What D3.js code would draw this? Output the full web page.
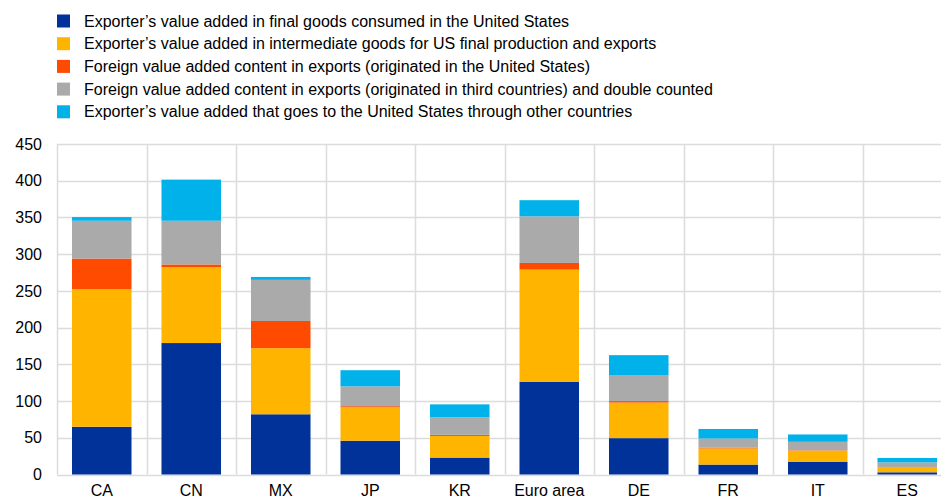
<!DOCTYPE html>
<html>
<head>
<meta charset="utf-8">
<script src="https://cdn.jsdelivr.net/npm/d3@7"></script>
<style>
  body { margin: 0; background: #fff; }
  svg { font-family: "Liberation Sans", Arial, sans-serif; display: block; }
</style>
</head>
<body>
<svg width="941" height="499"></svg>
<script>
var categories = ["CA", "CN", "MX", "JP", "KR", "Euro area", "DE", "FR", "IT", "ES"];

var seriesNames = [
  "Exporter\u2019s value added in final goods consumed in the United States",
  "Exporter\u2019s value added in intermediate goods for US final production and exports",
  "Foreign value added content in exports (originated in the United States)",
  "Foreign value added content in exports (originated in third countries) and double counted",
  "Exporter\u2019s value added that goes to the United States through other countries"
];

var finalGoods   = [65, 179, 82, 46, 23, 126, 49.5, 13.5, 17.5, 3];
var intermediate = [187.5, 103.5, 90, 45.5, 29.5, 153, 48.5, 22, 15, 6];
var foreignUS    = [41.5, 3.5, 37, 1.5, 1.5, 9, 2, 1, 0.5, 0.5];
var foreignThird = [51.5, 59.5, 56, 27, 24, 63.5, 35.5, 12.5, 11.5, 7];
var viaOthers    = [5, 56, 4, 22, 17.5, 22, 27, 13, 10, 6];

var yTicks = [0, 50, 100, 150, 200, 250, 300, 350, 400, 450];

var colors = ["#003299", "#ffb400", "#ff4b00", "#aaaaaa", "#00b1ea"];

var svg = d3.select("svg");
var plotLeft = 57, plotRight = 952, plotTop = 144, plotBottom = 474.5;

// rows for the stack
var rows = categories.map(function(c, i) {
  return { key: c, s0: finalGoods[i], s1: intermediate[i], s2: foreignUS[i], s3: foreignThird[i], s4: viaOthers[i] };
});
var stack = d3.stack().keys(["s0", "s1", "s2", "s3", "s4"]);
var layers = stack(rows);

var x = d3.scaleBand().domain(categories).range([plotLeft, plotRight]).paddingInner(0.335).paddingOuter(0.1675);
var y = d3.scaleLinear().domain([0, 450]).range([plotBottom, plotTop]);

// grid
var grid = svg.append("g");
grid.selectAll(".h").data(yTicks).enter().append("line")
  .attr("x1", plotLeft).attr("x2", 941)
  .attr("y1", function(d) { return Math.round(y(d)) + 0.5; })
  .attr("y2", function(d) { return Math.round(y(d)) + 0.5; })
  .attr("stroke", "#dcdcdc").attr("stroke-width", 1.5);
var step = x.step();
grid.selectAll(".v").data(d3.range(categories.length)).enter().append("line")
  .attr("x1", function(i) { return Math.round(plotLeft + i * step) + 0.5; })
  .attr("x2", function(i) { return Math.round(plotLeft + i * step) + 0.5; })
  .attr("y1", plotTop).attr("y2", plotBottom)
  .attr("stroke", "#dcdcdc").attr("stroke-width", 1.5);

// bars
svg.append("g").selectAll("g").data(layers).enter().append("g")
  .attr("fill", function(d, i) { return colors[i]; })
  .selectAll("rect").data(function(d) { return d; }).enter().append("rect")
  .attr("x", function(d) { return x(d.data.key); })
  .attr("width", x.bandwidth())
  .attr("y", function(d) { return y(d[1]); })
  .attr("height", function(d) { return y(d[0]) - y(d[1]); });

// y axis
var yAxis = svg.append("g")
  .attr("transform", "translate(" + plotLeft + ",0)")
  .call(d3.axisLeft(y).tickValues(yTicks).tickSize(0).tickPadding(15));
yAxis.select(".domain").remove();
yAxis.selectAll("text").attr("font-size", 16).attr("fill", "#000").style("font-family", "Liberation Sans, Arial, sans-serif");

// x axis
var xAxis = svg.append("g")
  .attr("transform", "translate(0," + plotBottom + ")")
  .call(d3.axisBottom(x).tickSize(0).tickPadding(10));
xAxis.select(".domain").remove();
xAxis.selectAll("text").attr("font-size", 16).attr("fill", "#000").style("font-family", "Liberation Sans, Arial, sans-serif");

// legend
var legend = svg.append("g").selectAll("g").data(seriesNames).enter().append("g")
  .attr("transform", function(d, i) { return "translate(57," + (21 + i * 22.7) + ")"; });
legend.append("rect")
  .attr("x", 0).attr("y", -6.5).attr("width", 13).attr("height", 13)
  .attr("fill", function(d, i) { return colors[i]; });
legend.append("text")
  .attr("x", 27).attr("y", 0).attr("dy", "0.35em")
  .attr("font-size", 16).attr("fill", "#000")
  .text(function(d) { return d; });
</script>
</body>
</html>
